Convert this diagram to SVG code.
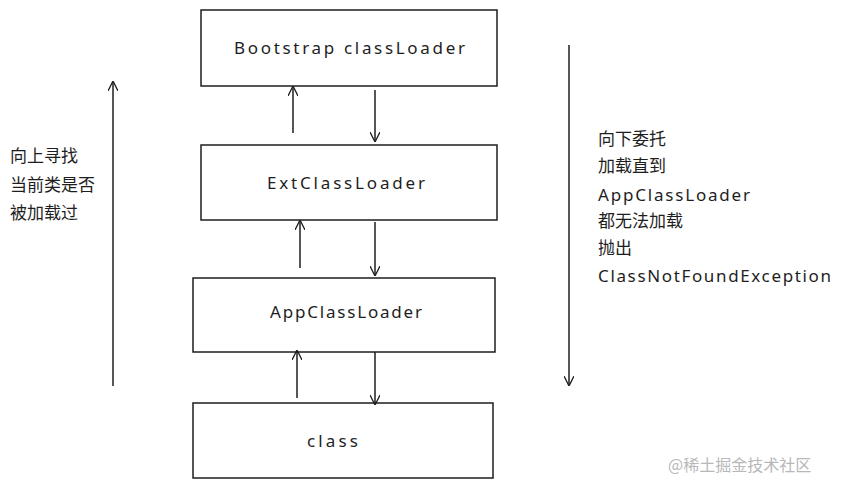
<svg xmlns="http://www.w3.org/2000/svg" width="841" height="490" viewBox="0 0 841 490">
<style>
.box{fill:#fff;stroke:#1e1e1e;stroke-width:1.5}
.t{font-family:"Comic Sans MS","Noto Sans","Noto Sans CJK SC",sans-serif;font-size:17px;fill:#1e1e1e}
.c{text-anchor:middle}
.ln{stroke:#1e1e1e;stroke-width:1.5;fill:none}
</style>
<defs><marker id="a" viewBox="0 0 10 10" refX="9" refY="5" markerWidth="10" markerHeight="10" orient="auto" markerUnits="userSpaceOnUse"><path d="M0,0 L10,5 L0,10" fill="none" stroke="#1e1e1e" stroke-width="1.3"/></marker></defs>
<rect width="841" height="490" fill="#fff"/>
<g id="n1"><rect class="box" x="201" y="10" width="296" height="76"/><text class="t" x="234" y="54" textLength="231">Bootstrap classLoader</text></g>
<g id="n2"><rect class="box" x="201" y="145" width="296" height="75"/><text class="t" x="267" y="189" textLength="158">ExtClassLoader</text></g>
<g id="n3"><rect class="box" x="193" y="278" width="302" height="74"/><text class="t" x="270" y="318" textLength="152">AppClassLoader</text></g>
<g id="n4"><rect class="box" x="193" y="403" width="300" height="75"/><text class="t" x="307" y="447" textLength="51">class</text></g>
<g id="edges">
<line class="ln" x1="293" y1="133" x2="293" y2="87" marker-end="url(#a)"/>
<line class="ln" x1="375" y1="90" x2="375" y2="141" marker-end="url(#a)"/>
<line class="ln" x1="300" y1="268" x2="300" y2="221" marker-end="url(#a)"/>
<line class="ln" x1="375" y1="222" x2="375" y2="275" marker-end="url(#a)"/>
<line class="ln" x1="297" y1="398" x2="297" y2="351" marker-end="url(#a)"/>
<line class="ln" x1="375" y1="352" x2="375" y2="404" marker-end="url(#a)"/>
<line class="ln" x1="113" y1="386" x2="113" y2="82" marker-end="url(#a)"/>
<line class="ln" x1="569" y1="45" x2="569" y2="385" marker-end="url(#a)"/>
</g>
<g id="labels">
<text class="t" x="10" y="162">向上寻找</text>
<text class="t" x="10" y="191">当前类是否</text>
<text class="t" x="10" y="219">被加载过</text>
<text class="t" x="598" y="145">向下委托</text>
<text class="t" x="598" y="172">加载直到</text>
<text class="t" x="598" y="201" textLength="152">AppClassLoader</text>
<text class="t" x="598" y="227">都无法加载</text>
<text class="t" x="598" y="254">抛出</text>
<text class="t" x="598" y="282" textLength="233">ClassNotFoundException</text>
<text x="668" y="471" style="font-family:'Noto Sans CJK SC',sans-serif;font-size:16px;fill:#b8b8b8">@稀土掘金技术社区</text>
</g>
</svg>
